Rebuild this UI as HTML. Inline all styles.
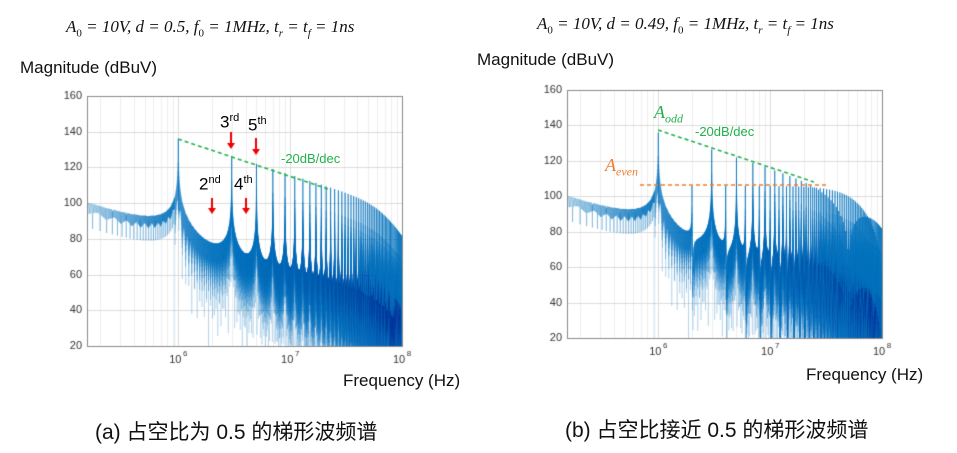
<!DOCTYPE html>
<html><head><meta charset="utf-8">
<style>
body{margin:0;background:#fff;width:957px;height:453px;overflow:hidden;position:relative;font-family:"Liberation Sans","Noto Sans CJK SC",sans-serif}
.t{position:absolute;white-space:nowrap}
.m{font-family:"Liberation Serif",serif;font-style:italic;font-size:17px;color:#111}
canvas{position:absolute;left:0;top:0}
</style></head><body>
<canvas id="c" width="957" height="453"></canvas>
<div class="t m" style="left:66px;top:17px">A<sub style="font-size:11px;font-style:normal">0</sub> = 10V, d = 0.5, f<sub style="font-size:11px;font-style:normal">0</sub> = 1MHz, t<sub style="font-size:11px">r</sub> = t<sub style="font-size:11px">f</sub> = 1ns</div>
<div class="t m" style="left:537px;top:14px">A<sub style="font-size:11px;font-style:normal">0</sub> = 10V, d = 0.49, f<sub style="font-size:11px;font-style:normal">0</sub> = 1MHz, t<sub style="font-size:11px">r</sub> = t<sub style="font-size:11px">f</sub> = 1ns</div>
<div class="t" style="left:20px;top:58px;font-size:17px;color:#111">Magnitude (dBuV)</div>
<div class="t" style="left:477px;top:50px;font-size:17px;color:#111">Magnitude (dBuV)</div>
<div class="t" style="left:343px;top:371px;font-size:17px;color:#111">Frequency (Hz)</div>
<div class="t" style="left:806px;top:365px;font-size:17px;color:#111">Frequency (Hz)</div>
<div class="t" style="left:95px;top:416px;font-size:21px;color:#111">(a) 占空比为 0.5 的梯形波频谱</div>
<div class="t" style="left:565px;top:414px;font-size:21px;color:#111">(b) 占空比接近 0.5 的梯形波频谱</div>
<div class="t" style="left:220px;top:112px;font-size:17px">3<sup style="font-size:11px">rd</sup></div>
<div class="t" style="left:248px;top:115px;font-size:17px">5<sup style="font-size:11px">th</sup></div>
<div class="t" style="left:199px;top:174px;font-size:17px">2<sup style="font-size:11px">nd</sup></div>
<div class="t" style="left:234px;top:174px;font-size:17px">4<sup style="font-size:11px">th</sup></div>
<div class="t" style="left:281px;top:151px;font-size:13px;color:#22b14c">-20dB/dec</div>
<div class="t" style="left:695px;top:124px;font-size:13px;color:#22b14c">-20dB/dec</div>
<div class="t m" style="left:654px;top:102px;color:#22b14c;font-size:18px">A<sub style="font-size:12px">odd</sub></div>
<div class="t m" style="left:605px;top:155px;color:#ed7d31;font-size:18px">A<sub style="font-size:12px">even</sub></div>
<script>
const cv=document.getElementById('c'),g=cv.getContext('2d');
function plot(P,d){
 const {l,r,t,b,x6}=P;const dec=(r-x6)/2;
 const X=f=>x6+(Math.log10(f)-6)*dec, Y=v=>b-(v-20)/140*(b-t);
 g.lineWidth=1;
 for(let e=5;e<8;e++)for(let k=1;k<10;k++){const f=k*Math.pow(10,e);const x=Math.round(X(f))+.5;if(x<l||x>r)continue;
  g.strokeStyle=k==1?'#dcdcdc':'#eeeeee';g.beginPath();g.moveTo(x,t);g.lineTo(x,b);g.stroke();}
 for(let v=40;v<160;v+=20){const y=Math.round(Y(v))+.5;g.strokeStyle='#dcdcdc';g.beginPath();g.moveTo(l,y);g.lineTo(r,y);g.stroke();}
 g.save();g.beginPath();g.rect(l,t,r-l,b-t);g.clip();
 const N=200,T=1e-6;
 function mag(f){const x=Math.PI*f*d*T,s1=Math.sin(x)/x,y=Math.PI*f*1e-9,s2=Math.sin(y)/y;
  const den=Math.sin(Math.PI*f*T);let num=Math.sin(Math.PI*f*N*T);
  if(f<0.93e6){const a=Math.abs(num);num=(Math.abs(Math.sin(f*0.00011))<0.06)?0.2:0.45+0.55*a;}
  let D=Math.abs(den)<1e-7?N:num/den;
  const ro=1/(1+Math.pow(f/7e7,4));return Math.abs(d*s1*s2*D)*ro;}
 const ref=0.5*(2/Math.PI)*N;const C=136-20*Math.log10(ref);
 function draw(f0,f1,st,alpha){
  g.strokeStyle='rgba(0,114,189,'+alpha+')';g.lineWidth=0.5;g.beginPath();
  let first=true;
  for(let f=f0;f<=f1;f+=st){let m=mag(f);let v=20*Math.log10(m+1e-12)+C;if(v<0)v=0;
   const px=X(f),py=Y(v);if(first){g.moveTo(px,py);first=false}else g.lineTo(px,py);}
  g.stroke();}
 draw(1.5e5,0.93e6,1013,0.6);
 draw(0.93e6,1e8,1013,0.35);
 g.strokeStyle='rgba(0,114,189,0.9)';g.lineWidth=1;
 for(let n=1;n<100;n++){const f=n*1e6;const x=Math.PI*f*d*T;let a=Math.abs(d*Math.sin(x)/x*N)/(1+Math.pow(f/7e7,4));
  const v=20*Math.log10(a+1e-12)+C;if(v<30)continue;g.beginPath();g.moveTo(X(f),Y(Math.max(v-40,20)));g.lineTo(X(f),Y(v));g.stroke();}
 g.restore();
 g.strokeStyle='#8a8a8a';g.lineWidth=1;g.strokeRect(l+.5,t+.5,r-l,b-t);
 g.fillStyle='#333';g.font='11px "Liberation Sans"';g.textAlign='right';g.textBaseline='middle';
 for(let v=20;v<=160;v+=20)g.fillText(v,l-5,Y(v));
 g.textAlign='center';g.textBaseline='top';
 for(let e=6;e<=8;e++){const x=X(Math.pow(10,e));g.font='11px "Liberation Sans"';g.fillText('10',x-3,b+8);g.font='8px "Liberation Sans"';g.fillText(e,x+7,b+4);}
}
plot({l:87,r:402,t:96,b:346,x6:178.3},0.5);
plot({l:567,r:882,t:90,b:338,x6:658.3},0.49);
function dash(x1,y1,x2,y2,c){g.save();g.strokeStyle=c;g.lineWidth=1.6;g.setLineDash([4,3]);g.beginPath();g.moveTo(x1,y1);g.lineTo(x2,y2);g.stroke();g.restore();}
dash(178,139,328,189,'#22b14c');dash(658,130,814,182,'#22b14c');dash(640,185,828,185,'#ed7d31');
function arr(x,y1,y2){g.strokeStyle='#e00';g.fillStyle='#e00';g.lineWidth=2;g.beginPath();g.moveTo(x,y1);g.lineTo(x,y2-5);g.stroke();
 g.beginPath();g.moveTo(x-4,y2-6);g.lineTo(x+4,y2-6);g.lineTo(x,y2);g.fill();}
arr(231,132,149);arr(256,138,155);arr(212,198,214);arr(246,198,214);
</script>
</body></html>
